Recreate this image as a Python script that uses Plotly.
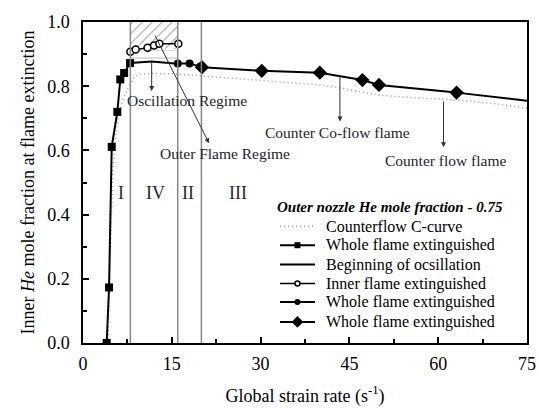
import plotly.graph_objects as go

# ---- data ----
c_curve_x = [4.2, 4.6, 5.0, 5.5, 6.0, 6.8, 7.5, 8.5, 9.6, 12, 16, 20, 25, 30, 35, 40, 43, 47, 50, 55, 60, 63, 70, 75]
c_curve_y = [0.0, 0.30, 0.52, 0.64, 0.71, 0.76, 0.79, 0.825, 0.838, 0.840, 0.838, 0.832, 0.825, 0.819, 0.812, 0.804, 0.796, 0.782, 0.772, 0.765, 0.759, 0.757, 0.745, 0.731]

sq_x = [4.0, 4.4, 4.85, 5.8, 6.3, 6.95, 7.95]
sq_y = [0.0, 0.173, 0.611, 0.720, 0.821, 0.841, 0.872]

osc_x = [7.95, 11.6, 16.0]
osc_y = [0.872, 0.877, 0.870]

inner_x = [8.0, 8.9, 10.9, 12.0, 12.9, 16.1]
inner_y = [0.907, 0.914, 0.920, 0.927, 0.932, 0.932]

dot_x = [16.0, 18.0, 19.8]
dot_y = [0.871, 0.871, 0.861]

dia_x = [20.1, 30.2, 40.0, 47.2, 50.0, 63.1]
dia_y = [0.859, 0.848, 0.842, 0.819, 0.804, 0.780]
tail_x = [63.1, 75.0]
tail_y = [0.780, 0.755]

regime_bounds = [8, 16, 20]
regime_labels = ["I", "IV", "II", "III"]
regime_label_x = [6.5, 12.2, 17.8, 26.2]

legend_title = "Outer nozzle He mole fraction - 0.75"
legend_names = ["Counterflow C-curve", "Whole flame extinguished", "Beginning of ocsillation",
                "Inner flame extinguished", "Whole flame extinguished", "Whole flame extinguished"]

FONT = "Liberation Serif, Times New Roman, DejaVu Serif, serif"
fig = go.Figure()

# hatched oscillation region
fig.add_trace(go.Scatter(x=[8, 16, 16, 8, 8], y=[0.915, 0.915, 1.0, 1.0, 0.915], mode="lines",
                         fill="toself", line=dict(width=0), fillcolor="rgba(0,0,0,0)",
                         fillpattern=dict(shape="/", fgcolor="#444", bgcolor="white", size=7, solidity=0.15),
                         showlegend=False, hoverinfo="skip"))
fig.add_trace(go.Scatter(x=[8, 16, 16, 8, 8], y=[0.880, 0.880, 0.913, 0.913, 0.880], mode="lines",
                         fill="toself", line=dict(width=0), fillcolor="rgba(0,0,0,0)",
                         fillpattern=dict(shape="-", fgcolor="#888", bgcolor="white", size=8, solidity=0.15),
                         showlegend=False, hoverinfo="skip"))

for b in regime_bounds:
    fig.add_shape(type="line", x0=b, x1=b, y0=0, y1=1, xref="x", yref="y",
                  line=dict(color="#888", width=1.5))

styles = [
    dict(mode="lines", line=dict(color="#999", width=1.5, dash="1px,3px")),
    dict(mode="lines+markers", line=dict(color="black", width=2), marker=dict(symbol="square", size=8, color="black")),
    dict(mode="lines", line=dict(color="black", width=2)),
    dict(mode="lines+markers", line=dict(color="black", width=1.5),
         marker=dict(symbol="circle", size=7, color="white", line=dict(color="black", width=1.5))),
    dict(mode="lines+markers", line=dict(color="black", width=2), marker=dict(symbol="circle", size=8, color="black")),
    dict(mode="lines+markers", line=dict(color="black", width=2), marker=dict(symbol="diamond", size=11, color="black")),
]
series = [(c_curve_x, c_curve_y), (sq_x, sq_y), (osc_x, osc_y), (inner_x, inner_y), (dot_x, dot_y), (dia_x, dia_y)]
for (sx, sy), st, nm in zip(series, styles, legend_names):
    fig.add_trace(go.Scatter(x=sx, y=sy, name=nm, showlegend=False, **st))
fig.add_trace(go.Scatter(x=tail_x, y=tail_y, mode="lines", showlegend=False,
                         line=dict(color="black", width=2)))

# manual legend, positioned in plot-area fractions (paper coords)
leg_x0, leg_x1, leg_xc, leg_tx = 0.4437, 0.5225, 0.483, 0.543
leg_rows = [0.3639, 0.3046, 0.2445, 0.1852, 0.1278, 0.0655]
X_SPAN, Y_SPAN = 75.0, 1.0  # axis spans, for converting fractions to axis units for symbols
for st, nm, ry in zip(styles, legend_names, leg_rows):
    fig.add_trace(go.Scatter(x=[leg_x0 * X_SPAN, leg_x1 * X_SPAN], y=[ry * Y_SPAN, ry * Y_SPAN],
                             mode="lines", line=st["line"], showlegend=False, hoverinfo="skip"))
    if "marker" in st:
        mk = dict(st["marker"])
        mk["size"] = max(mk["size"] - 2, 5)
        fig.add_trace(go.Scatter(x=[leg_xc * X_SPAN], y=[ry * Y_SPAN], mode="markers", marker=mk,
                                 showlegend=False, hoverinfo="skip"))
    fig.add_annotation(x=leg_tx, y=ry, xref="paper", yref="paper", text=nm, showarrow=False,
                       xanchor="left", yanchor="middle", font=dict(family=FONT, size=16, color="black"))
fig.add_annotation(x=0.432, y=0.4241, xref="paper", yref="paper", text="<b><i>" + legend_title + "</i></b>",
                   showarrow=False, xanchor="left", yanchor="middle", font=dict(family=FONT, size=15, color="black"))

# arrows
arrows = [((11.6, 0.877), (11.6, 0.785)),
          ((12.05, 0.962), (21.3, 0.622)),
          ((43.4, 0.833), (43.4, 0.690)),
          ((60.9, 0.757), (60.9, 0.610))]
for (x0, y0), (x1, y1) in arrows:
    fig.add_annotation(x=x1, y=y1, ax=x0, ay=y0, xref="x", yref="y", axref="x", ayref="y",
                       text="", showarrow=True, arrowhead=2, arrowsize=1, arrowwidth=1, arrowcolor="#333")

texts = [("Oscillation Regime", 17.6, 0.754),
         ("Outer Flame Regime", 24.0, 0.591),
         ("Counter Co-flow flame", 43.0, 0.657),
         ("Counter flow flame", 61.3, 0.570)]
for t, x, y in texts:
    fig.add_annotation(x=x, y=y, text=t, showarrow=False, xref="x", yref="y",
                       font=dict(family=FONT, size=15.5, color="#1c2430"))
for t, x in zip(regime_labels, regime_label_x):
    fig.add_annotation(x=x, y=0.468, text=t, showarrow=False, xref="x", yref="y",
                       font=dict(family=FONT, size=18, color="#2a2a2a"))

axis_common = dict(showline=True, linecolor="black", linewidth=1.5, mirror=True, ticks="inside",
                   ticklen=6, tickwidth=1.5, tickcolor="black", showgrid=False, zeroline=False,
                   automargin=False, tickfont=dict(family=FONT, size=18, color="black"))

fig.update_layout(
    width=539, height=408,
    margin=dict(l=83, r=12, t=22, b=65),
    plot_bgcolor="white", paper_bgcolor="white",
    font=dict(family=FONT, color="black"),
    showlegend=False,
    xaxis=dict(range=[0, 75], dtick=15, tick0=0,
               minor=dict(dtick=7.5, ticks="inside", ticklen=4, tickcolor="black", showgrid=False),
               title=dict(text="Global strain rate (s<sup>-1</sup>)",
                          font=dict(family=FONT, size=18, color="black"), standoff=16),
               ticklabelstandoff=4, **axis_common),
    yaxis=dict(range=[0, 1.0], dtick=0.2, tick0=0, tickformat=".1f",
               minor=dict(dtick=0.1, ticks="inside", ticklen=4, tickcolor="black", showgrid=False),
               title=dict(text="Inner <i>He</i> mole fraction at flame extinction",
                          font=dict(family=FONT, size=18, color="black"), standoff=8),
               ticklabelstandoff=8, **axis_common),
)

fig.write_html("out.html")
